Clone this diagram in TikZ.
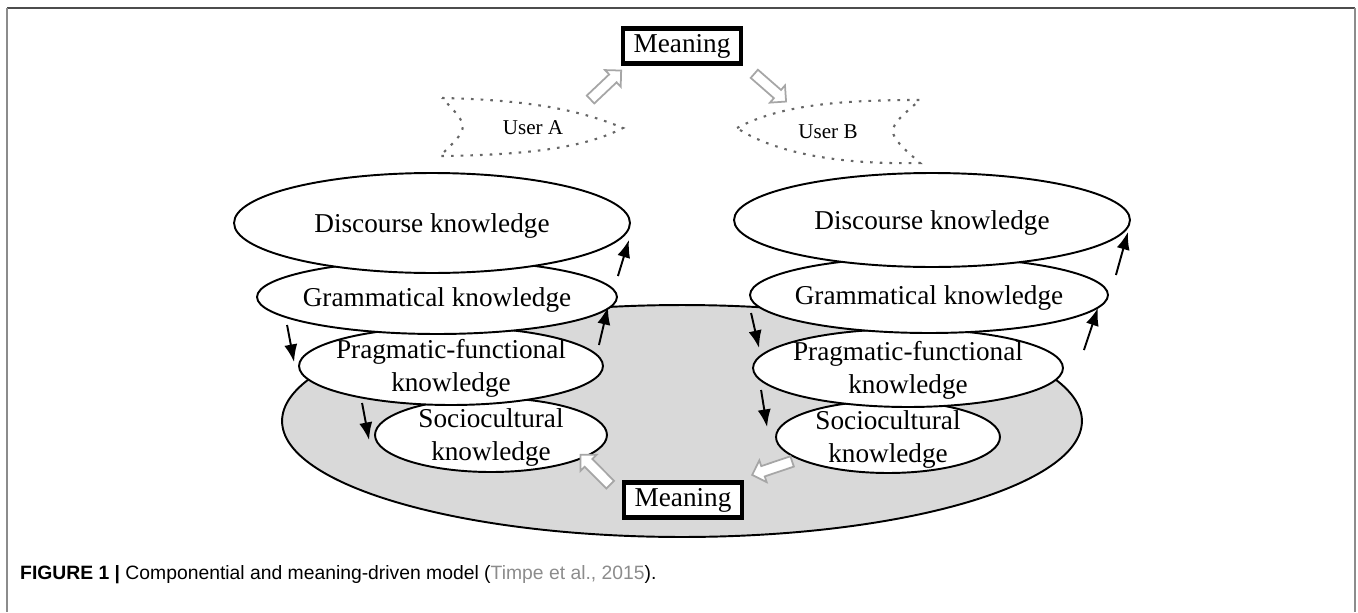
\documentclass[tikz,border=0pt]{standalone}
\usepackage{fontspec}
\setmainfont{Liberation Serif}
\newfontfamily\capfont{Liberation Sans}
\usetikzlibrary{shapes.geometric,shapes.arrows,arrows.meta,calc}

\begin{document}
\begin{tikzpicture}[x=0.02cm,y=-0.02cm,
  >={Latex[length=10pt,width=7.5pt]},
  ell/.style={ellipse,draw,line width=1.1pt,fill=white,inner sep=0pt},
  lab/.style={font=\fontsize{15.5}{19}\selectfont,align=center,yshift=-1.5pt},
  meanbox/.style={draw,fill=white,line width=2.6pt,minimum width=2.36cm,minimum height=0.7cm,
    inner sep=0pt,font=\fontsize{15.5}{18}\selectfont},
  hol/.style={single arrow,draw=black!35,fill=white,line width=1pt,inner xsep=0pt,inner ysep=2.6pt,
    minimum height=24pt,single arrow head extend=3.4pt,sloped,allow upside down},
  flag/.style={draw=black!60,line width=1.2pt,dash pattern=on 1.5pt off 4pt},
  blk/.style={->,line width=1.1pt}]
  \useasboundingbox (0,0) rectangle (1358,612);
  % frame
  \draw[black!70,line width=1.1pt] (7,8) -- (1355,8);
  \draw[black!45,line width=1.1pt] (7,8) -- (7,612) (1355,8) -- (1355,612);
  %
  \node[ell,fill=gray!30,minimum width=16cm,minimum height=4.64cm] (base) at (682,421) {};
  % left stack
  \node[ell,minimum width=4.64cm,minimum height=1.48cm,label={[lab]center:Sociocultural\\knowledge}] (socL) at (491,435) {};
  \node[ell,minimum width=6.08cm,minimum height=1.56cm,label={[lab]center:Pragmatic-functional\\knowledge}] (pragL) at (451,366) {};
  \node[ell,minimum width=7.2cm,minimum height=1.48cm,label={[lab]center:Grammatical knowledge}] (gramL) at (437,297) {};
  \node[ell,minimum width=7.92cm,minimum height=2cm,label={[lab]center:Discourse knowledge}] (discL) at (432,223) {};
  % right stack
  \node[ell,minimum width=4.48cm,minimum height=1.44cm,label={[lab]center:Sociocultural\\knowledge}] (socR) at (888,437) {};
  \node[ell,minimum width=6.2cm,minimum height=1.56cm,label={[lab]center:Pragmatic-functional\\knowledge}] (pragR) at (908,368) {};
  \node[ell,minimum width=7.16cm,minimum height=1.52cm,label={[lab]center:Grammatical knowledge}] (gramR) at (929,295) {};
  \node[ell,minimum width=7.92cm,minimum height=1.88cm,label={[lab]center:Discourse knowledge}] (discR) at (932,220) {};
  %
  \node[meanbox] (mT) at (682,46) {Meaning};
  \node[meanbox] (mB) at (683,500) {Meaning};
  % users
  \node[font=\fontsize{12}{14}\selectfont] (uA) at (533,128) {User A};
  \node[font=\fontsize{12}{14}\selectfont] (uB) at (828,132) {User B};
  \draw[flag] (442,98) .. controls (530,100) and (580,110) .. (623,128)
    .. controls (590,145) and (540,155) .. (440,156) .. controls (470,127) .. (442,98);
  \draw[flag] (737,128) .. controls (780,105) and (840,100) .. (920,100)
    .. controls (884,131) .. (920,163) .. controls (830,165) and (770,150) .. (737,128);
  % hollow arrows
  \coordinate (tA) at (590,100);
  \coordinate (hB) at (782,98);
  \path (tA) -- ($(mT.south west)+(-3,8)$) node[midway,hol] {};
  \path ($(mT.south east)+(11,8)$) -- (hB) node[midway,hol] {};
  \path ($(mB.north west)+(-11,5)$) -- (socL.-14) node[midway,hol] {};
  \path (socR.194) -- ($(mB.north east)+(7,-5)$) node[midway,hol] {};
  % black arrows, left
  \draw[blk] ($(gramL.west)+(31,28)$) -- ($(pragL.west)+(-4,-4)$);
  \draw[blk] ($(pragL.west)+(64,37)$) -- ($(socL.west)+(-5,5)$);
  \draw[blk] ($(pragL.east)+(-5,-21)$) -- ($(gramL.east)+(-10,10)$);
  \draw[blk] ($(gramL.east)+(0,-21)$) -- ($(discL.east)+(-2,17)$);
  % black arrows, right
  \draw[blk] ($(gramR.west)+(2,18)$) -- ($(pragR.west)+(7,-20)$);
  \draw[blk] ($(pragR.west)+(9,22)$) -- ($(socR.west)+(-8,-10)$);
  \draw[blk] ($(pragR.east)+(20,-18)$) -- ($(gramR.east)+(-11,13)$);
  \draw[blk] ($(gramR.east)+(7,-20)$) -- ($(discR.east)+(-3,12)$);
  %
  \node[anchor=west,font=\capfont\fontsize{11}{13}\selectfont] (cap) at (14,575)
    {\textbf{FIGURE 1 |} Componential and meaning-driven model (\textcolor{black!45}{Timpe et al., 2015}).};
\end{tikzpicture}
\end{document}
